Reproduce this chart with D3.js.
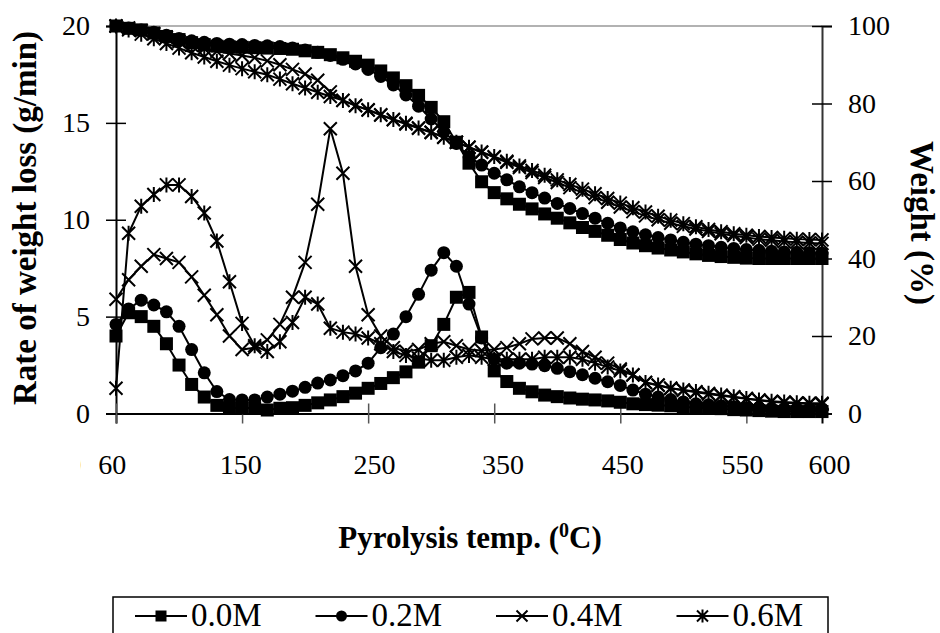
<!DOCTYPE html>
<html>
<head>
<meta charset="utf-8">
<script src="https://cdnjs.cloudflare.com/ajax/libs/d3/7.8.5/d3.min.js"></script>
<style>
  body { margin: 0; background: #fff; }
  svg { display: block; }
  text { font-family: "Liberation Serif", "Times New Roman", serif; fill: #000; }
</style>
</head>
<body>
<svg width="940" height="633"></svg>
<script>
// temperature categories (deg C) - the first/last ticks are labelled 60 / 600 on the chart
const temps = [50,60,70,80,90,100,110,120,130,140,
  150,160,170,180,190,200,210,220,230,240,
  250,260,270,280,290,300,310,320,330,340,
  350,360,370,380,390,400,410,420,430,440,
  450,460,470,480,490,500,510,520,530,540,
  550,560,570,580,590,600,610];

// rate of weight loss (g/min), left axis
const rate00 = [4.0,5.2,5.0,4.5,3.6,2.5,1.5,0.85,0.42,0.3,
  0.28,0.28,0.18,0.27,0.3,0.42,0.55,0.7,0.87,1.05,
  1.3,1.55,1.85,2.15,2.65,3.5,4.6,6.0,6.25,3.95,
  2.2,1.65,1.3,1.12,0.95,0.87,0.8,0.74,0.7,0.65,
  0.58,0.5,0.46,0.43,0.4,0.35,0.3,0.28,0.25,0.2,
  0.18,0.15,0.12,0.1,0.1,0.1,0.1];
const rate02 = [4.6,5.4,5.85,5.6,5.25,4.5,3.3,2.1,1.13,0.72,
  0.7,0.7,0.85,1.0,1.15,1.35,1.57,1.73,1.95,2.2,
  2.6,3.4,4.1,5.0,6.15,7.4,8.3,7.6,5.65,3.9,
  2.8,2.6,2.6,2.55,2.47,2.33,2.16,2.0,1.82,1.64,
  1.45,1.21,1.0,0.85,0.72,0.6,0.5,0.45,0.4,0.35,
  0.3,0.3,0.27,0.25,0.25,0.25,0.25];
const rate04 = [5.9,6.9,7.6,8.2,8.0,7.8,7.05,6.1,5.1,4.0,
  3.3,3.4,3.8,4.6,6.0,7.8,10.8,14.7,12.4,7.6,
  5.1,4.0,3.4,3.2,3.3,3.6,3.7,3.5,3.3,3.25,
  3.3,3.4,3.6,3.85,3.9,3.9,3.6,3.2,2.9,2.6,
  2.3,2.0,1.6,1.45,1.3,1.2,1.1,1.0,0.92,0.84,
  0.76,0.68,0.6,0.56,0.52,0.5,0.48];
const rate06 = [1.3,9.3,10.7,11.3,11.8,11.8,11.2,10.35,8.9,6.8,
  4.65,3.5,3.2,3.7,4.7,6.0,5.65,4.4,4.2,4.1,
  3.9,3.6,3.2,3.0,2.85,2.75,2.75,2.9,3.0,2.9,
  2.8,2.8,2.8,2.8,2.9,2.9,2.9,2.8,2.6,2.4,
  2.2,1.99,1.6,1.47,1.3,1.21,1.13,1.04,0.95,0.87,
  0.78,0.7,0.63,0.6,0.55,0.53,0.53];

// weight (%), right axis
const weight00 = [100,99.4,99.0,98.2,97.3,96.5,95.7,95.2,94.8,94.6,
  94.5,94.4,94.3,94.2,94.0,93.6,93.2,92.6,91.8,90.9,
  89.9,88.4,86.6,84.6,82.1,79.0,75.3,70.0,64.6,59.8,
  57.0,55.4,54.0,52.8,51.5,50.4,49.2,48.0,47.0,46.0,
  44.9,44.0,43.3,42.7,42.2,41.7,41.2,40.8,40.5,40.3,
  40.1,40.0,40.0,40.0,40.0,40.0,40.0];
const weight02 = [100,99.5,99.0,98.4,97.6,96.8,96.2,95.8,95.5,95.3,
  95.2,95.0,94.9,94.7,94.3,93.8,93.2,92.4,91.4,90.2,
  88.8,87.0,84.8,82.2,79.3,76.0,72.7,69.7,66.3,64.1,
  62.0,60.3,58.5,57.0,55.6,54.2,52.9,51.6,50.4,49.1,
  47.9,46.9,46.1,45.4,44.8,44.2,43.7,43.3,42.9,42.6,
  42.3,42.1,41.9,41.7,41.6,41.5,41.4];
const weight04 = [100,99.5,98.8,98.0,97.0,96.0,95.0,94.2,93.5,92.9,
  92.4,91.8,91.0,90.0,88.8,87.6,86.0,83.0,80.8,79.5,
  78.3,77.0,75.8,74.7,73.6,72.5,71.3,70.0,68.7,67.4,
  66.1,64.8,63.5,62.2,60.9,59.6,58.3,57.0,55.7,54.5,
  53.3,52.1,51.0,50.0,49.1,48.3,47.6,47.0,46.4,45.9,
  45.4,45.0,44.7,44.4,44.2,44.0,43.9];
const weight06 = [100,99.0,97.9,96.7,95.5,94.3,93.1,92.0,90.9,89.9,
  89.0,88.2,87.4,86.3,85.1,84.0,82.9,81.8,80.8,79.4,
  78.4,77.1,75.9,74.9,73.7,72.6,71.3,70.0,68.7,67.5,
  66.3,65.1,63.9,62.7,61.5,60.3,59.1,57.9,56.7,55.5,
  54.3,53.1,52.0,50.9,49.9,49.0,48.2,47.5,46.9,46.4,
  46.0,45.7,45.4,45.2,45.0,44.9,44.8];

const seriesNames = ["0.0M", "0.2M", "0.4M", "0.6M"];
const seriesMarks = ["square", "circle", "cross", "star"];

const xTicks = [50,150,250,350,450,550];
const xLabelPos = [47,149,255,357,452,547,616];
const xLabels = ["60","150","250","350","450","550","600"];
const leftTicks = [0,5,10,15,20];
const rightTicks = [0,20,40,60,80,100];

const svg = d3.select("svg");
svg.append("rect").attr("width", 940).attr("height", 633).attr("fill", "#fff");

const x = d3.scaleLinear().domain([50, 610]).range([116, 822]);
const yL = d3.scaleLinear().domain([0, 20]).range([413.5, 26]);
const yR = d3.scaleLinear().domain([0, 100]).range([413.5, 26]);

// plot frame: grey top edge
svg.append("line").attr("x1", 116).attr("x2", 822).attr("y1", 26).attr("y2", 26)
  .attr("stroke", "#999").attr("stroke-width", 1.5);

// axes
const gl = svg.append("g").attr("transform", "translate(116,0)")
  .call(d3.axisLeft(yL).tickValues(leftTicks).tickSize(10).tickPadding(16));
gl.selectAll(".tick line").attr("x1", 10);
const gr = svg.append("g").attr("transform", "translate(822,0)")
  .call(d3.axisRight(yR).tickValues(rightTicks).tickSize(10).tickPadding(16));
gr.selectAll(".tick line").attr("x1", -10);
const gb = svg.append("g").attr("transform", "translate(0,413.5)")
  .call(d3.axisBottom(x).tickValues(xTicks).tickSize(10).tickFormat(""));
gb.selectAll(".tick line").attr("y1", -10).attr("stroke", "#555");

[gl, gr, gb].forEach(g => {
  g.select(".domain").attr("stroke", "#000").attr("stroke-width", 2);
  g.selectAll(".tick line").attr("stroke-width", 1.5);
  g.selectAll("text").style("font-size", "28px").attr("fill", "#000");
});
gr.select(".domain").attr("stroke", "#333");

// x tick labels (placed as on the original, slightly off the tick marks)
svg.append("g").selectAll("text").data(xLabels).join("text")
  .attr("x", (d, i) => x(xLabelPos[i])).attr("y", 474)
  .attr("text-anchor", "middle").style("font-size", "28px").text(d => d);

// leftover sliver of an older label just left of "60"
svg.append("clipPath").attr("id", "sliver").append("rect")
  .attr("x", 70).attr("y", 440).attr("width", 11).attr("height", 40);
svg.append("text").attr("x", 87).attr("y", 474).attr("text-anchor", "middle")
  .attr("clip-path", "url(#sliver)").style("font-size", "28px").text("0");

// markers
function drawMark(g, type, s) {
  if (type === "square") {
    g.append("rect").attr("x", -s / 2).attr("y", -s / 2).attr("width", s).attr("height", s).attr("fill", "#000");
  } else if (type === "circle") {
    g.append("circle").attr("r", s / 2).attr("fill", "#000");
  } else {
    let h = s / 2;
    let p = `M${-h},${-h}L${h},${h}M${-h},${h}L${h},${-h}`;
    if (type === "star") p += `M0,${-h - 1}L0,${h + 1}`;
    g.append("path").attr("d", p).attr("stroke", "#000").attr("stroke-width", 2).attr("fill", "none");
  }
}

const rates = [rate00, rate02, rate04, rate06];
const weights = [weight00, weight02, weight04, weight06];
const plot = svg.append("g");

function drawSeries(vals, y, mark) {
  const line = d3.line().x((d, i) => x(temps[i])).y(d => y(d));
  plot.append("path").attr("d", line(vals)).attr("fill", "none")
    .attr("stroke", "#000").attr("stroke-width", 2);
  vals.forEach((v, i) => {
    const g = plot.append("g").attr("transform", `translate(${x(temps[i])},${y(v)})`);
    drawMark(g, mark, 13);
  });
}

[3, 2, 1, 0].forEach(k => drawSeries(rates[k], yL, seriesMarks[k]));
[3, 2, 1, 0].forEach(k => drawSeries(weights[k], yR, seriesMarks[k]));

// axis titles
svg.append("text").attr("transform", "translate(36,218) rotate(-90)")
  .attr("text-anchor", "middle").style("font-size", "33px").style("font-weight", "bold")
  .text("Rate of weight loss (g/min)");
svg.append("text").attr("transform", "translate(911,223) rotate(90)")
  .attr("text-anchor", "middle").style("font-size", "33px").style("font-weight", "bold")
  .text("Weight (%)");
const xt = svg.append("text").attr("x", 470).attr("y", 548).attr("text-anchor", "middle")
  .style("font-size", "31px").style("font-weight", "bold");
xt.append("tspan").text("Pyrolysis temp. (");
xt.append("tspan").attr("dy", -11).style("font-size", "20px").text("0");
xt.append("tspan").attr("dy", 11).text("C)");

// legend
const lg = svg.append("g");
lg.append("rect").attr("x", 113).attr("y", 597).attr("width", 715).attr("height", 50)
  .attr("fill", "#fff").attr("stroke", "#000").attr("stroke-width", 1.5);
seriesNames.forEach((name, i) => {
  const x0 = 135 + i * 180.5;
  const it = lg.append("g").attr("transform", `translate(${x0 + 26},616)`);
  it.append("line").attr("x1", -26).attr("x2", 26).attr("stroke", "#000").attr("stroke-width", 2);
  drawMark(it, seriesMarks[i], 11);
  lg.append("text").attr("x", x0 + 56).attr("y", 626).style("font-size", "33px").text(name);
});
</script>
</body>
</html>
